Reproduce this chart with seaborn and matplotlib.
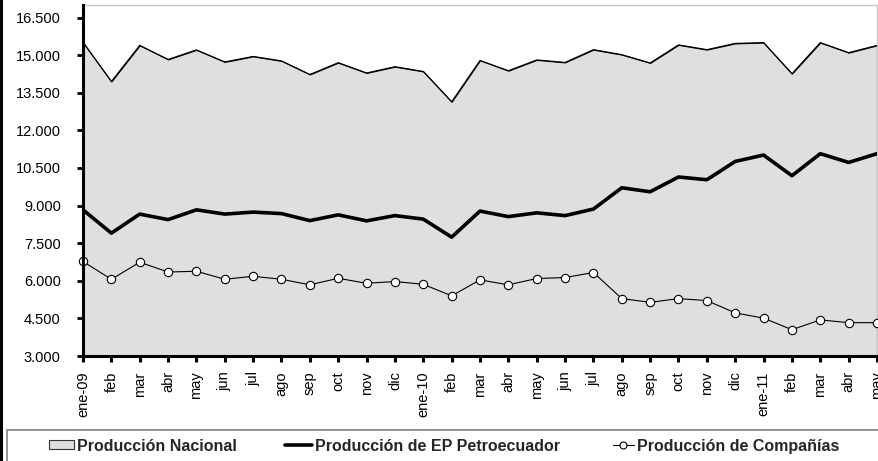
import numpy as np
import pandas as pd
import matplotlib
matplotlib.use("Agg")
import matplotlib.pyplot as plt
import seaborn as sns
from matplotlib.lines import Line2D
from matplotlib.patches import Patch, Rectangle
from matplotlib.ticker import FuncFormatter, FixedLocator

# ---- data ----
meses = ["ene-09", "feb", "mar", "abr", "may", "jun", "jul", "ago", "sep", "oct", "nov", "dic",
         "ene-10", "feb", "mar", "abr", "may", "jun", "jul", "ago", "sep", "oct", "nov", "dic",
         "ene-11", "feb", "mar", "abr", "may"]
nacional = [15510, 13950, 15390, 14830, 15210, 14730, 14950, 14770, 14230, 14700, 14290, 14540,
            14350, 13140, 14790, 14380, 14810, 14710, 15220, 15020, 14690, 15410, 15220, 15470,
            15500, 14260, 15500, 15100, 15390]
petroecuador = [8830, 7900, 8660, 8440, 8830, 8660, 8740, 8680, 8400, 8630, 8390, 8600,
                8460, 7740, 8780, 8560, 8710, 8600, 8860, 9710, 9550, 10140, 10030, 10760,
                11015, 10190, 11070, 10720, 11070]
companias = [6770, 6060, 6740, 6350, 6380, 6060, 6180, 6060, 5840, 6100, 5900, 5970,
             5860, 5400, 6035, 5840, 6090, 6130, 6330, 5290, 5140, 5290, 5210, 4720,
             4510, 4050, 4440, 4330, 4330]
y_ticks = [3000, 4500, 6000, 7500, 9000, 10500, 12000, 13500, 15000, 16500]
series_names = ["Producción Nacional", "Producción de EP Petroecuador", "Producción de Compañías"]

df = pd.DataFrame({"idx": np.arange(len(meses)), "mes": meses,
                   "nacional": nacional, "ep": petroecuador, "comp": companias})

sns.set_style("white")
plt.rcParams["font.family"] = ["Liberation Sans", "DejaVu Sans"]

W, H = 879, 461
fig = plt.figure(figsize=(W / 100, H / 100), dpi=100)
ax = fig.add_axes([83 / W, 1 - 356 / H, (877 - 83) / W, (356 - 5) / H])

# area (Producción Nacional)
ax.fill_between(df["idx"], y_ticks[0], df["nacional"], facecolor="#DFDFDF",
                edgecolor="black", linewidth=0.8, zorder=1)
sns.lineplot(data=df, x="idx", y="nacional", color="black", linewidth=0.8, ax=ax, zorder=2)
sns.lineplot(data=df, x="idx", y="ep", color="black", linewidth=2.6, ax=ax, zorder=3)
sns.lineplot(data=df, x="idx", y="comp", color="black", linewidth=0.8, marker="o",
             markersize=6, markerfacecolor="white", markeredgecolor="black",
             markeredgewidth=0.8, ax=ax, zorder=4, clip_on=False)

ax.set_xlim(0, len(meses) - 1)
ax.set_ylim(3000, 17000)
ax.set_xlabel("")
ax.set_ylabel("")
ax.yaxis.set_major_locator(FixedLocator(y_ticks))
ax.yaxis.set_major_formatter(FuncFormatter(lambda v, p: f"{v:,.0f}".replace(",", ".")))
ax.set_xticks(df["idx"])
ax.set_xticklabels(meses)

for s in ["left", "bottom"]:
    ax.spines[s].set_color("black")
    ax.spines[s].set_linewidth(2.2)
    ax.spines[s].set_zorder(5)
for s in ["top", "right"]:
    ax.spines[s].set_color("#C8C8C8")
    ax.spines[s].set_linewidth(1.0)

ax.tick_params(axis="y", which="major", length=4, width=2, direction="out", pad=12,
               labelsize=10.5, left=True, colors="black")
ax.tick_params(axis="x", which="major", length=4, width=2.2, direction="out", pad=7,
               labelsize=10.5, labelrotation=90, bottom=True, colors="black")
ax.grid(False)

# outer decorations
fig.add_artist(Line2D([0.0012, 0.0012], [0, 1], transform=fig.transFigure, lw=2.2, color="black"))
fig.add_artist(Rectangle((7 / W, -0.05), 1.1, 0.05 + (H - 430) / H, transform=fig.transFigure,
                         fill=False, edgecolor="#8A8A8A", lw=1.3))

# legend entries
legprops = dict(weight="bold", size=11.5)
ly = 1 - 446 / H
handles = [
    Patch(facecolor="#DFDFDF", edgecolor="#333333", linewidth=0.8),
    Line2D([], [], color="black", lw=2.6),
    Line2D([], [], color="black", lw=0.8, marker="o", markersize=5,
           markerfacecolor="white", markeredgecolor="black", markeredgewidth=0.8),
]
xs = [49, 285, 613]
hl = [1.55, 1.7, 1.3]
for h, name, x0, l in zip(handles, series_names, xs, hl):
    fig.legend(handles=[h], labels=[name], loc="center left", bbox_to_anchor=(x0 / W, ly),
               frameon=False, prop=legprops, borderpad=0, borderaxespad=0,
               handlelength=l, handleheight=0.5, handletextpad=0.2)

fig.savefig("out.png", dpi=100)
